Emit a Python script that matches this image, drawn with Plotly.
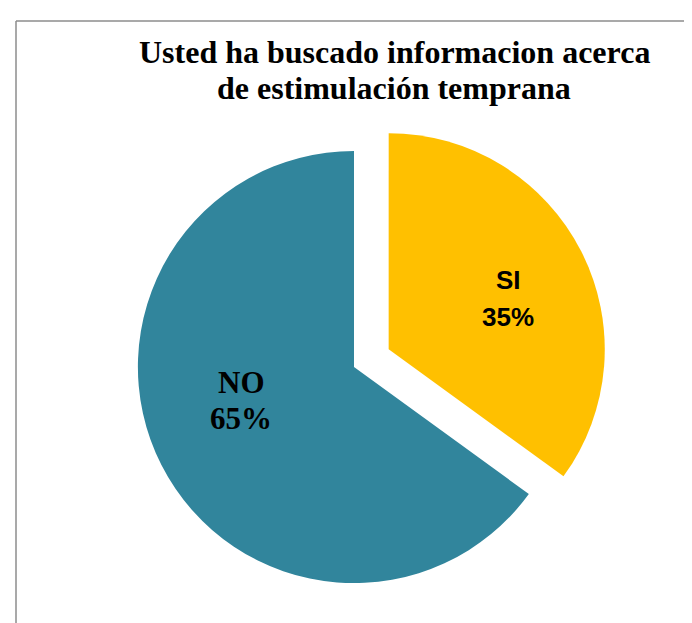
import plotly.graph_objects as go

labels = ["SI", "NO"]
values = [35, 65]
colors = ["#FFC000", "#31859C"]
pulls = [0.18, 0.0]
label_fonts = ["Liberation Sans", "Liberation Serif"]
label_sizes = [26, 31]
title_lines = ["Usted ha buscado informacion acerca", "de estimulación temprana"]

W, H = 692, 623

fig = go.Figure(go.Pie(
    labels=labels,
    values=values,
    sort=False,
    direction="clockwise",
    rotation=0,
    pull=pulls,
    marker=dict(colors=colors, line=dict(width=0)),
    textinfo="none",
    showlegend=False,
    hoverinfo="label+percent",
    domain=dict(x=[91 / W, 601 / W], y=[1 - 614 / H, 1 - 104 / H]),
))

total = sum(values)
# (x, y of label line, y of percent line) in pixels
label_pos = [(500, 272, 309), (233, 374, 410)]
annotations = []
for lab, val, fam, sz, (px, py1, py2) in zip(labels, values, label_fonts, label_sizes, label_pos):
    for txt, py in [(lab, py1), (f"{round(100 * val / total)}%", py2)]:
        annotations.append(dict(
            text=f"<b>{txt}</b>",
            x=px / W, y=1 - py / H, xref="paper", yref="paper",
            xanchor="center", yanchor="middle", showarrow=False,
            font=dict(family=fam, size=sz, color="black"), align="center",
        ))

for line, py in zip(title_lines, [44, 80]):
    annotations.append(dict(
        text=f"<b>{line}</b>",
        x=386 / W, y=1 - py / H, xref="paper", yref="paper",
        xanchor="center", yanchor="middle", showarrow=False,
        font=dict(family="Liberation Serif", size=32, color="black"),
    ))

fig.update_layout(
    width=W, height=H,
    margin=dict(l=0, r=0, t=0, b=0),
    paper_bgcolor="white",
    plot_bgcolor="white",
    annotations=annotations,
    shapes=[
        dict(type="line", xref="paper", yref="paper",
             x0=8 / W, x1=1.05, y0=1 - 13 / H, y1=1 - 13 / H,
             line=dict(color="#8C8C8C", width=1.5)),
        dict(type="line", xref="paper", yref="paper",
             x0=8 / W, x1=8 / W, y0=1 - 13 / H, y1=-0.05,
             line=dict(color="#8C8C8C", width=1.5)),
    ],
)

fig.write_html("out.html")
